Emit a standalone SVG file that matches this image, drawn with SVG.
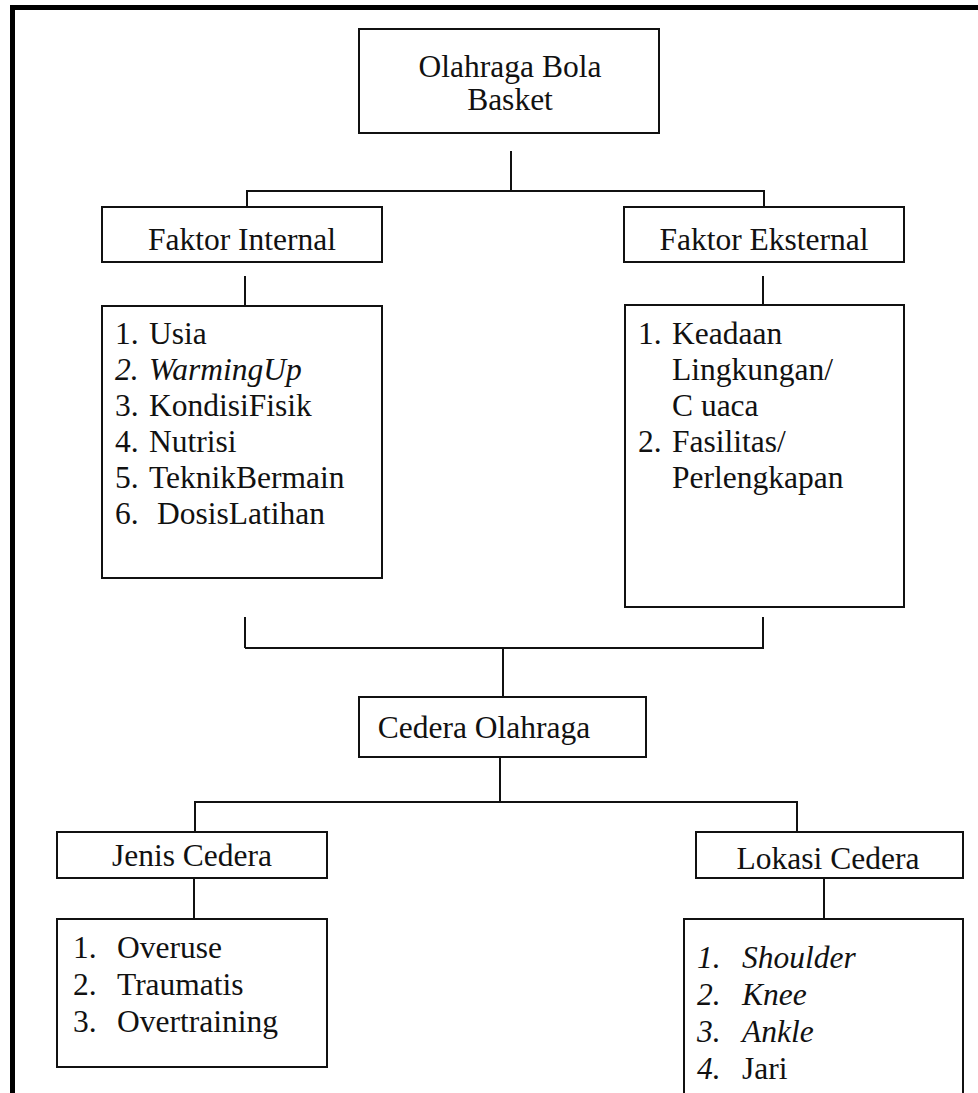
<svg xmlns="http://www.w3.org/2000/svg" width="978" height="1093" viewBox="0 0 978 1093">
<style>
.box{fill:#fff;stroke:#111;stroke-width:2}
.ln{stroke:#111;stroke-width:2;fill:none}
text{font-family:"Liberation Serif","Times New Roman",serif;font-size:31.5px;fill:#111}
.c{text-anchor:middle}
.i{font-style:italic}
</style>
<rect x="0" y="0" width="978" height="1093" fill="#fff"/>
<g id="frame">
<rect x="10" y="5" width="968" height="5" fill="#000"/>
<rect x="10" y="5" width="5" height="1088" fill="#000"/>
</g>
<g id="connectors">
<path class="ln" d="M511 151V191M246 191H765M247 190V207M764 190V207"/>
<path class="ln" d="M245 276V306M763 276V305"/>
<path class="ln" d="M245 617V648M763 617V648M245 648H764M503 648V697"/>
<path class="ln" d="M500 757V802M195 802H797M195 801V832M797 801V832"/>
<path class="ln" d="M194 878V919M824 878V919"/>
</g>
<g id="olahraga">
<rect class="box" x="359" y="29" width="300" height="104"/>
<text class="c" x="510" y="77">Olahraga Bola</text>
<text class="c" x="510" y="110">Basket</text>
</g>
<g id="faktor-internal">
<rect class="box" x="102" y="207" width="280" height="55"/>
<text class="c" x="242" y="250">Faktor Internal</text>
</g>
<g id="faktor-eksternal">
<rect class="box" x="624" y="207" width="280" height="55"/>
<text class="c" x="764" y="250">Faktor Eksternal</text>
</g>
<g id="internal-list">
<rect class="box" x="102" y="306" width="280" height="272"/>
<text x="115" y="344">1. <tspan x="149">Usia</tspan></text>
<text x="115" y="380" class="i">2. <tspan x="149">WarmingUp</tspan></text>
<text x="115" y="416">3. <tspan x="149">KondisiFisik</tspan></text>
<text x="115" y="452">4. <tspan x="149">Nutrisi</tspan></text>
<text x="115" y="488">5. <tspan x="149">TeknikBermain</tspan></text>
<text x="115" y="524">6. <tspan x="157">DosisLatihan</tspan></text>
</g>
<g id="eksternal-list">
<rect class="box" x="625" y="305" width="279" height="302"/>
<text x="638" y="344">1. <tspan x="672">Keadaan</tspan></text>
<text x="672" y="380">Lingkungan/</text>
<text x="672" y="416">C uaca</text>
<text x="638" y="452">2. <tspan x="672">Fasilitas/</tspan></text>
<text x="672" y="488">Perlengkapan</text>
</g>
<g id="cedera-olahraga">
<rect class="box" x="359" y="697" width="287" height="60"/>
<text class="c" x="484" y="738">Cedera Olahraga</text>
</g>
<g id="jenis-cedera">
<rect class="box" x="57" y="832" width="270" height="46"/>
<text class="c" x="192" y="866">Jenis Cedera</text>
</g>
<g id="lokasi-cedera">
<rect class="box" x="696" y="832" width="267" height="46"/>
<text class="c" x="828" y="869">Lokasi Cedera</text>
</g>
<g id="jenis-list">
<rect class="box" x="57" y="919" width="270" height="148"/>
<text x="73" y="958">1. <tspan x="117">Overuse</tspan></text>
<text x="73" y="995">2. <tspan x="117">Traumatis</tspan></text>
<text x="73" y="1032">3. <tspan x="117">Overtraining</tspan></text>
</g>
<g id="lokasi-list">
<path class="box" d="M684 1093V919H963V1093"/>
<text x="697" y="968" class="i">1. <tspan x="742">Shoulder</tspan></text>
<text x="697" y="1005" class="i">2. <tspan x="742">Knee</tspan></text>
<text x="697" y="1042" class="i">3. <tspan x="742">Ankle</tspan></text>
<text x="697" y="1079"><tspan class="i">4.</tspan> <tspan x="742">Jari</tspan></text>
</g>
</svg>
